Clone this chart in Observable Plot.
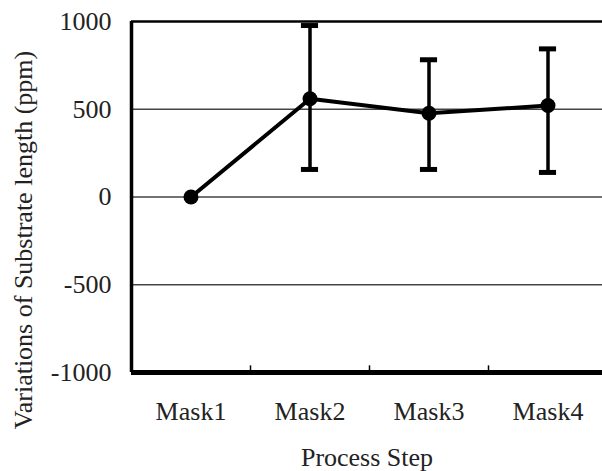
<!DOCTYPE html>
<html>
<head>
<meta charset="utf-8">
<script src="https://cdn.jsdelivr.net/npm/d3@7"></script>
<script src="https://cdn.jsdelivr.net/npm/@observablehq/plot@0.6"></script>
<style>
  html, body { margin: 0; padding: 0; background: #fff; overflow: hidden; }
  svg text { font-family: 'Liberation Serif', 'Times New Roman', serif; }
</style>
</head>
<body>
<div id="chart"></div>
<script>
const steps = ["Mask1", "Mask2", "Mask3", "Mask4"];
const means = [0, 560, 477, 521];
const upper = [null, 977, 782, 844];
const lower = [null, 157, 157, 140];
const yTicks = [-1000, -500, 0, 500, 1000];
const gridValues = [-500, 0, 500];
const xTitle = "Process Step";
const yTitle = "Variations of Substrate length (ppm)";

const data = steps.map((s, i) => ({step: s, pos: i + 0.5, mean: means[i], hi: upper[i], lo: lower[i]}));
const withErr = data.filter(d => d.hi != null);
const boundaries = steps.slice(1).map((s, i) => i + 1);
const capHalf = 0.072;
const font = "Liberation Serif";

const chart = Plot.plot({
  width: 602,
  height: 471,
  marginLeft: 131,
  marginRight: 0,
  marginTop: 21,
  marginBottom: 99,
  style: {"font-family": font, "font-size": "26px", "background": "#fff", "color": "#222"},
  x: {domain: [0, steps.length], range: [131, 607]},
  y: {domain: [-1000, 1000]},
  marks: [
    Plot.ruleY(gridValues, {stroke: "#444", strokeWidth: 1.5}),
    Plot.ruleY([1000], {stroke: "#000", strokeWidth: 2.5}),
    Plot.ruleY([-1000], {stroke: "#000", strokeWidth: 5}),
    Plot.ruleX([0], {stroke: "#000", strokeWidth: 3.5}),
    Plot.ruleX(boundaries, {y1: -1000, y2: -962, stroke: "#000", strokeWidth: 1.5}),
    Plot.ruleX(withErr, {x: "pos", y1: "lo", y2: "hi", stroke: "#000", strokeWidth: 3.5}),
    Plot.ruleY(withErr, {y: "hi", x1: d => d.pos - capHalf, x2: d => d.pos + capHalf, stroke: "#000", strokeWidth: 5}),
    Plot.ruleY(withErr, {y: "lo", x1: d => d.pos - capHalf, x2: d => d.pos + capHalf, stroke: "#000", strokeWidth: 5}),
    Plot.line(data, {x: "pos", y: "mean", stroke: "#000", strokeWidth: 4}),
    Plot.dot(data, {x: "pos", y: "mean", r: 7.5, fill: "#000", stroke: "none"}),
    Plot.axisY({ticks: yTicks, tickSize: 0, tickPadding: 20, fontSize: 26, fontFamily: font, fill: "#222", label: null, tickFormat: d => String(d)}),
    Plot.axisX({ticks: data.map(d => d.pos), tickFormat: v => steps[Math.floor(v)], tickSize: 0, tickPadding: 29, fontSize: 26, fontFamily: font, fill: "#222", label: null}),
    Plot.text([xTitle], {text: d => d, frameAnchor: "bottom", lineAnchor: "bottom", dy: 93, fontSize: 26, fontFamily: font, fill: "#222"}),
    Plot.text([yTitle], {text: d => d, frameAnchor: "left", textAnchor: "middle", rotate: -90, lineAnchor: "top", dx: -118, dy: 43, fontSize: 26, fontFamily: font, fill: "#222"})
  ]
});
document.getElementById("chart").appendChild(chart);
</script>
</body>
</html>
